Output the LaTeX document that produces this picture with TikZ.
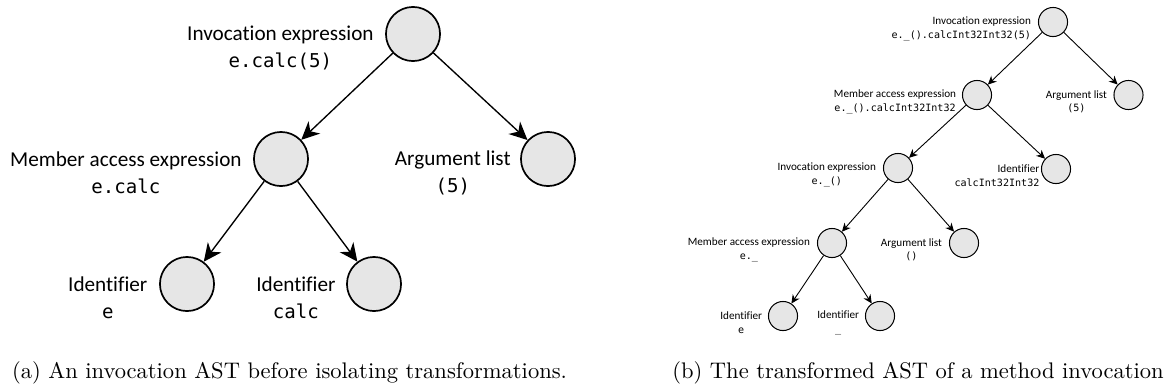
\documentclass[tikz,border=0pt]{standalone}
\usepackage{fontspec}
\usepackage{xcolor}
\usepackage{tikz}
\usetikzlibrary{arrows.meta,positioning}
\newfontfamily\lblfont{Carlito}[Ligatures=NoCommon]
\newfontfamily\codefont{DejaVu Sans Mono}[Scale=0.9]
\newcommand{\code}[1]{{\codefont #1}}
\definecolor{nodegray}{RGB}{230,230,230}

\begin{document}
\begin{tikzpicture}[x=0.4435pt,y=-0.4435pt,
		vtx/.style={circle,draw,fill=nodegray,line width=0.75pt,minimum size=24pt,inner sep=0pt},
		svtx/.style={circle,draw,fill=nodegray,line width=0.45pt,minimum size=12.9pt,inner sep=0pt},
		lbl/.style={align=center,inner sep=0pt,font=\lblfont\fontsize{9.4}{12.2}\selectfont,yshift=-6.2pt},
		slbl/.style={align=center,inner sep=0pt,font=\lblfont\fontsize{4.96}{6.1}\selectfont,yshift=-3pt},
		arr/.style={-{Stealth[length=8pt,width=7.5pt,inset=2.5pt]},line width=0.6pt},
		sarr/.style={-{Stealth[length=3.8pt,width=3.6pt,inset=1.2pt]},line width=0.4pt}]
		\useasboundingbox (0,0) rectangle (1170,390);
		% (a) before
		\node[vtx] (A) at (413,34) {};
		\node[vtx] (B) at (281,159) {};
		\node[vtx] (C) at (548,159) {};
		\node[vtx] (D) at (187,284) {};
		\node[vtx] (E) at (374,284) {};
		\node[lbl,left=4.9pt of A] (lA) {Invocation expression\\\code{e.calc(5)}};
		\node[lbl,left=4.9pt of B] (lB) {Member access expression\\\code{e.calc}};
		\node[lbl,left=4pt of C] (lC) {Argument list\\\code{(5)}};
		\node[lbl,left=5pt of D] (lD) {Identifier\\\code{e}};
		\node[lbl,left=4.5pt of E] (lE) {Identifier\\\code{calc}};
		%
		\path[arr]
		(A) edge (B)
		(A) edge (C)
		(B) edge (D)
		(B) edge (E);
		% (b) after
		\node[svtx] (A') at (1053,22) {};
		\node[svtx] (B') at (977,95) {};
		\node[svtx] (C') at (1128.5,95) {};
		\node[svtx] (D') at (898,168) {};
		\node[svtx] (E') at (1056,169) {};
		\node[svtx] (F') at (832,243) {};
		\node[svtx] (G') at (964,243) {};
		\node[svtx] (H') at (783,316) {};
		\node[svtx] (I') at (880,316) {};
		\node[slbl,align=right,left=2.9pt of A'] (lA') {Invocation expression\\\code{e.\_().calcInt32Int32(5)}};
		\node[slbl,left=2.4pt of B'] (lB') {Member access expression\\\code{e.\_().calcInt32Int32}};
		\node[slbl,left=2.7pt of C'] (lC') {Argument list\\\code{(5)}};
		\node[slbl,left=2.9pt of D'] (lD') {Invocation expression\\\code{e.\_()}};
		\node[slbl,align=right,left=0.5pt of E'] (lE') {Identifier\\\code{calcInt32Int32}};
		\node[slbl,left=2.9pt of F'] (lF') {Member access expression\\\code{e.\_}};
		\node[slbl,left=2.9pt of G'] (lG') {Argument list\\\code{()}};
		\node[slbl,left=2.4pt of H'] (lH') {Identifier\\\code{e}};
		\node[slbl,left=2.4pt of I'] (lI') {Identifier\\\code{\_}};
		%
		\path[sarr]
		(A') edge (B')
		(A') edge (C')
		(B') edge (D')
		(B') edge (E')
		(D') edge (F')
		(D') edge (G')
		(F') edge (H')
		(F') edge (I');
		% captions
		\node[anchor=base,inner sep=0pt] (capA) at (289.5,378) {(a) An invocation AST before isolating transformations.};
		\node[anchor=base,inner sep=0pt] (capB) at (918,378) {(b) The transformed AST of a method invocation};
\end{tikzpicture}
\end{document}
